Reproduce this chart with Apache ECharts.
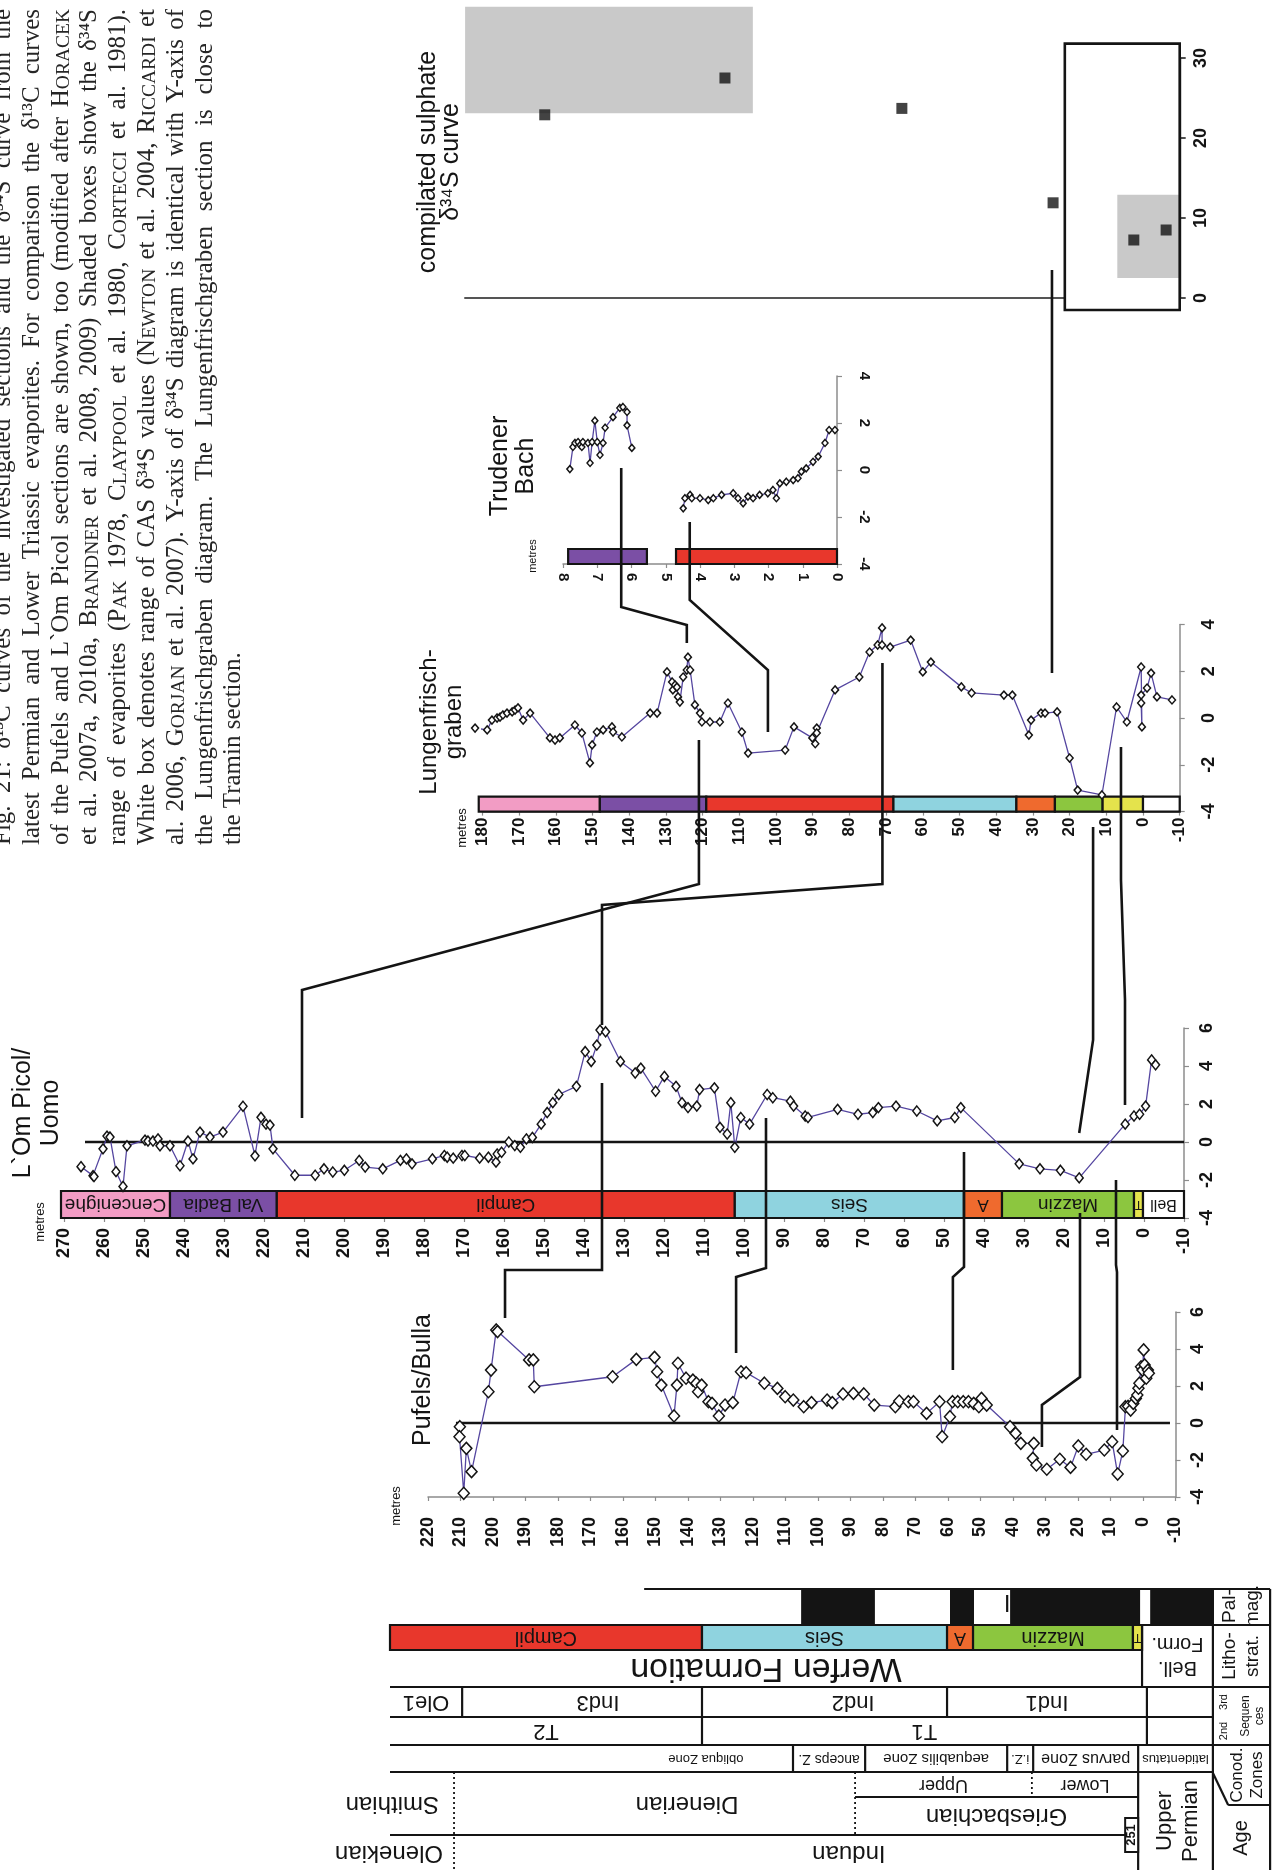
<!DOCTYPE html>
<html>
<head>
<meta charset="utf-8">
<title>δ13C and δ34S curves – Lower Triassic sections</title>
<script src="https://cdn.jsdelivr.net/npm/echarts@6.0.0/dist/echarts.min.js"></script>
<style>
  html, body { margin: 0; padding: 0; background: #ffffff; }
  #chart { width: 1277px; height: 1870px; }
</style>
</head>
<body>
<div id="chart"></div>
<script>
// ---------------------------------------------------------------------------
// Data: δ13C carbonate records, [height in metres, δ13C ‰]
// ---------------------------------------------------------------------------
const pufelsBulla = [
  [210.2,-0.2],[210.3,-0.74],[209.0,-3.8],[208.2,-1.37],[206.6,-2.63],[201.4,1.69],[200.6,2.86],[199.0,5.03],
  [198.6,4.94],[188.9,3.41],[187.6,3.41],[187.3,1.96],[163.2,2.5],[155.9,3.44],[150.3,3.55],[149.5,2.77],
  [148.2,2.05],[144.3,0.38],[143.4,2.05],[143.1,3.23],[140.6,2.42],[138.5,2.32],[137.4,2.15],[136.9,1.69],
  [135.8,2.05],[133.7,1.15],[132.6,1.06],[130.5,0.38],[128.6,0.97],[126.2,1.1],[123.7,2.77],[122.1,2.72],
  [116.5,2.15],[112.5,1.87],[110.1,1.42],[107.6,1.24],[104.4,0.88],[102.0,1.1],[97.2,1.24],[95.6,1.1],
  [92.3,1.57],[89.1,1.6],[85.9,1.57],[82.7,0.97],[76.2,0.88],[75.0,1.19],[72.2,1.15],[70.6,1.15],
  [66.6,0.52],[62.6,1.15],[61.8,-0.74],[59.4,0.34],[58.6,1.15],[57.0,1.15],[55.3,1.15],[53.7,1.15],
  [52.1,1.06],[50.5,0.88],[49.7,1.33],[48.1,0.97],[40.9,-0.2],[39.2,-0.56],[37.6,-1.1],[33.6,-1.1],
  [33.9,-1.91],[32.8,-2.27],[29.6,-2.5],[25.6,-1.96],[22.3,-2.4],[19.9,-1.24],[17.5,-1.69],[11.9,-1.46],
  [9.5,-1.01],[7.8,-2.76],[6.2,-1.51],[5.4,0.88],[4.6,0.9],[3.8,0.7],[3.0,1.06],[2.2,1.33],
  [1.75,1.51],[1.4,1.88],[1.1,2.15],[0.6,3.04],[0.15,2.86],[-0.2,3.95],[-0.5,3.14],[-1.0,2.42],
  [-1.5,2.86],[-1.8,2.69]
];

const omPicolUomo = [
  [265.75,-1.3],[262.75,-1.77],[262.5,-1.82],[260.25,-0.36],[259.25,0.31],[258.5,0.26],[257,-1.56],[255.25,-2.34],
  [254.25,-0.2],[249.75,0.1],[249,0.05],[247.75,0.05],[246.5,0.16],[246,-0.2],[243.5,-0.2],[241,-1.25],
  [239,0.05],[237.75,-0.89],[236,0.52],[233.5,0.26],[230.25,0.52],[225.25,1.88],[222.25,-0.73],[220.75,1.3],
  [219.5,0.94],[218.5,0.89],[217.75,-0.36],[212.3,-1.75],[207.2,-1.75],[205,-1.41],[202.8,-1.58],[199.9,-1.49],
  [196.2,-0.97],[194.7,-1.32],[190.3,-1.41],[185.9,-0.97],[184.4,-0.89],[183,-1.15],[177.9,-0.89],[174.9,-0.71],
  [174.2,-0.8],[172.7,-0.85],[170.5,-0.71],[169.8,-0.71],[166.1,-0.85],[163.9,-0.8],[162,-1.06],[161.7,-0.63],
  [160.6,-0.54],[158.8,0],[157.3,-0.19],[155.9,-0.28],[154.4,0.16],[152.9,0.24],[150.7,0.94],[149.2,1.55],
  [147.8,2.07],[146.3,2.5],[141.9,2.93],[139.7,4.76],[138.2,4.24],[136.8,5.1],[136,5.89],[134.6,5.8],
  [130.9,4.24],[127.2,3.63],[125.8,3.89],[122.1,2.67],[119.9,3.45],[117,2.93],[115.5,2.07],[114,1.81],
  [111.8,1.89],[111.1,2.76],[107.4,2.85],[106,0.77],[104.2,0.42],[103.3,2.07],[102.3,-0.28],[100.8,1.29],
  [98.6,0.94],[94.2,2.5],[92.8,2.33],[88.4,2.15],[87.6,1.89],[84.7,1.37],[84,1.29],[76.6,1.72],
  [71.5,1.46],[67.8,1.55],[66.4,1.81],[62,1.89],[56.8,1.63],[51.7,1.11],[47.3,1.29],[45.8,1.81],
  [31.2,-1.15],[26,-1.41],[20.9,-1.49],[16.2,-1.89],[4.7,0.94],[2.5,1.37],[1.1,1.46],[-0.4,1.89],
  [-1.9,4.32],[-2.9,4.06]
];

const lungenfrischgraben = [
  [182,-0.43],[178.7,-0.51],[177.4,-0.09],[176,0],[175.2,0.04],[174.4,0.13],[173.3,0.21],[171.9,0.26],
  [171.1,0.34],[170.3,0.43],[168.9,-0.09],[167,0.21],[161.6,-0.85],[160.2,-0.94],[158.9,-0.85],[154.8,-0.3],
  [152.9,-0.64],[150.7,-1.92],[150.1,-1.15],[148.8,-0.6],[147.1,-0.51],[144.7,-0.38],[144.4,-0.6],[142,-0.81],
  [134.3,0.21],[132.4,0.21],[129.7,1.97],[128.3,1.54],[128.1,1.2],[127.5,1.41],[127,1.32],[126.7,0.9],
  [126.2,0.68],[125.3,1.75],[124.3,2.05],[124,2.6],[123.4,2.05],[122.1,0.56],[120.7,0.21],[120.2,-0.17],
  [118,-0.17],[115.3,-0.17],[113.1,0.64],[109.3,-0.6],[107.6,-1.5],[97.5,-1.37],[95.1,-0.38],[90.1,-0.85],
  [89.3,-1.1],[88.9,-0.43],[88.9,-0.64],[83.9,1.2],[77.3,1.75],[74.5,2.82],[72.3,3.12],[71.1,3.85],
  [71.1,3.12],[68.9,3.03],[63.3,3.33],[60,1.97],[57.8,2.39],[49.5,1.33],[46.7,1.07],[37.9,0.98],
  [35.6,0.98],[31.1,-0.73],[30.5,-0.09],[27.8,0.21],[26.7,0.21],[23.4,0.26],[20,-1.71],[17.8,-3.08],
  [11.2,-3.29],[7.2,0.47],[4.4,-0.17],[0.5,2.18],[0.3,-0.38],[0.5,0.64],[0.5,0.98],[-1.1,1.28],
  [-2.2,1.92],[-3.8,0.9],[-7.9,0.77]
];

const trudenerBachLower = [
  [4.49,-1.63],[4.44,-1.2],[4.29,-1.06],[4.24,-1.2],[4.0,-1.2],[3.76,-1.28],[3.61,-1.2],[3.37,-1.06],
  [3.03,-0.99],[2.89,-1.2],[2.74,-1.42],[2.6,-1.13],[2.45,-1.2],[2.26,-1.06],[2.02,-0.99],[1.87,-0.85],
  [1.77,-1.2],[1.67,-0.57],[1.48,-0.5],[1.28,-0.43],[1.14,-0.35],[1.04,-0.07],[0.9,0.07],[0.7,0.35],
  [0.55,0.57],[0.35,1.15],[0.23,1.7],[0.06,1.7]
];
const trudenerBachUpper = [
  [7.8,0.04],[7.71,0.98],[7.65,1.15],[7.56,1.19],[7.5,1.06],[7.45,0.98],[7.42,1.19],[7.27,1.15],
  [7.21,0.3],[7.15,1.19],[7.07,2.1],[7.0,1.19],[6.92,0.64],[6.83,1.15],[6.77,1.8],[6.54,2.25],
  [6.34,2.64],[6.25,2.68],[6.13,2.47],[6.13,1.9],[5.99,0.94]
];

// compiled sulphate δ34S on the Lungenfrischgraben height scale, [metres, δ34S ‰]
const sulphateD34S = [[163,22.9],[113.9,27.5],[65.7,23.7],[24.5,11.9],[2.5,7.25],[-6.3,8.5]];
// evaporite δ34S ranges, [from m, to m, min δ34S, max δ34S]
const evaporiteRanges = [[184.7,106.3,23.1,36.4],[7,-10,2.5,12.9]];
// range of CAS δ34S values
const casRange = [21.3,-10,-1.5,31.8];

// formations per section, [name, base-side height, top-side height]
const omPicolFormations = [['Cencenighe',270.75,243.5],['Val Badia',243.5,216.8],['Campil',216.8,102.3],
  ['Seis',102.3,45],['A',45,35.5],['Mazzin',35.5,2.5],['T',2.5,0.25],['Bell',0.25,-10]];
const lungenFormations = [['Cencenighe',181,148],['Val Badia',148,119],['Campil',119,68],['Seis',68,34.5],
  ['A',34.5,24],['Mazzin',24,11],['T',11,0],['Bell',0,-10]];
const trudenerFormations = [['Val Badia',7.85,5.55],['Campil',4.7,0]];

// stratigraphic column (heights on the Pufels/Bulla scale)
const palmagNormal = [[105.2,82.5],[59.4,52],[40.9,0.9],[-2.2,-21.5]];
const lithoFormations = [['Campil',231.7,135.7],['Seis',135.7,60.3],['A',60.3,52.3],['Mazzin',52.3,3.1],['T',3.1,0.3]];
const lithoGroup = [['Werfen Formation',231.7,0.3]];
const thirdOrderSequences = [['Ole1',231.7,209.5],['Ind3',209.5,135.7],['Ind2',135.7,60.3],['Ind1',60.3,-1.2]];
const secondOrderSequences = [['T2',231.7,135.7],['T1',135.7,-1.2]];
const conodontZones = [['obliqua Zone',161.3,107.7],['anceps Z.',107.7,85.5],['aequabilis Zone',85.5,41.8],
  ['i.Z.',41.8,33.8],['parvus Zone',33.8,1.5],['latidentatus',1.5,-21.5]];
const substages = [['Upper',88.6,34.2],['Lower',34.2,1.5]];
const stagesUpper = [['Smithian',250,212],['Dienerian',212,88.6]];
const stagesLower = [['Griesbachian',88.6,1.5]];
const ages = [['Olenekian',250,212],['Induan',212,1.5]];

// correlated horizons between sections: [section, height in metres] pairs
const tieHorizons = [
  [['om',210.5],['lu',121]],
  [['pu',196.3],['om',135.5]],
  [['om',135.5],['lu',71]],
  [['pu',125.2],['om',94.5]],
  [['pu',58.5],['om',45]],
  [['pu',31.1],['om',16]],
  [['om',16.2],['lu',13.6]],
  [['pu',8],['om',7]],
  [['om',4.75],['lu',6]],
  [['tr',6.3],['lu',124.3]],
  [['tr',4.3],['lu',102.2]],
  [['su',24.8],['lu',24.8]]
];

const captionLines = [
  'Fig. 21: δ¹³C curves of the investigated sections and the δ³⁴S curve from the',
  'latest Permian and Lower Triassic evaporites. For comparison the δ¹³C curves',
  'of the Pufels and L`Om Picol sections are shown, too (modified after H{ORACEK}',
  'et al. 2007a, 2010a, B{RANDNER} et al. 2008, 2009) Shaded boxes show the δ³⁴S',
  'range of evaporites (P{AK} 1978, C{LAYPOOL} et al. 1980, C{ORTECCI} et al. 1981).',
  'White box denotes range of CAS δ³⁴S values (N{EWTON} et al. 2004, R{ICCARDI} et',
  'al. 2006, G{ORJAN} et al. 2007). Y-axis of δ³⁴S diagram is identical with Y-axis of',
  'the Lungenfrischgraben diagram. The Lungenfrischgraben section is close to',
  'the Tramin section.'
];

// ---------------------------------------------------------------------------
// Styling
// ---------------------------------------------------------------------------
const SANS = '"Liberation Sans", Arial, Helvetica, sans-serif';
const SERIF = '"Liberation Serif", "Times New Roman", serif';
const INK = '#141414';
const AXIS_GREY = '#8c8c8c';
const CURVE = '#5546a0';
const formationColor = {
  'Cencenighe':'#f29cc4','Val Badia':'#7b4fa5','Campil':'#e8372c','Seis':'#8fd3df',
  'A':'#ef6a2e','Mazzin':'#8cc63f','T':'#e4e34c','Bell':'#ffffff'
};

// grids: Pufels, L`Om Picol, Lungenfrischgraben, Trudener Bach, sulphate, strat. column
const grids = [
  {left:428,   right:101.5, top:1312,  height:185},
  {left:64,    right:93,    top:1028,  height:190},
  {left:482.4, right:97.3,  top:624.4, height:187.2},
  {left:563,   right:440,   top:376,   height:188},
  {left:465.1, right:97.3,  top:58,    height:240},
  {left:390,   right:5.6,   top:1589,  height:281}
];
const gridOf = {pu:0, om:1, lu:2, tr:3, su:4};

function tickLabel(size, rot, margin) {
  return {show:true, rotate:rot, margin:margin, fontFamily:SANS, fontWeight:'bold', fontSize:size, color:INK};
}
function metreAxis(gi, min, max, interval, label) {
  return {gridIndex:gi, type:'value', inverse:true, min:min, max:max, interval:interval,
    axisLine:{show:true, onZero:false, lineStyle:{color:AXIS_GREY, width:1.5}},
    axisTick:{show:true, length:4, lineStyle:{color:AXIS_GREY, width:1.2}},
    axisLabel:label, splitLine:{show:false}};
}
function deltaAxis(gi, min, max, interval, label) {
  return {gridIndex:gi, type:'value', position:'right', min:min, max:max, interval:interval,
    axisLine:{show:true, onZero:false, lineStyle:{color:AXIS_GREY, width:1.5}},
    axisTick:{show:true, length:5, lineStyle:{color:AXIS_GREY, width:1.2}},
    axisLabel:label, splitLine:{show:false}};
}

function curve(gi, data, size) {
  return {type:'line', xAxisIndex:gi, yAxisIndex:gi, data:data, clip:false, z:5, silent:true,
    symbol:'diamond', symbolSize:size, showAllSymbol:true,
    lineStyle:{color:CURVE, width:1.3},
    itemStyle:{color:'#ffffff', borderColor:INK, borderWidth:1.5},
    emphasis:{disabled:true}};
}
function zeroLine(gi, data) {
  return {type:'line', xAxisIndex:gi, yAxisIndex:gi, data:data, clip:false, z:2, silent:true,
    symbol:'none', lineStyle:{color:INK, width:2.6}, emphasis:{disabled:true}};
}

// formation bar lying on the base of a section's plot
function formationBar(gi, list, base, thick, fonts) {
  return {type:'custom', xAxisIndex:gi, yAxisIndex:gi, clip:false, silent:true, z:3,
    data:list.map(function (f, i) { return [f[1], f[2], i]; }),
    renderItem:function (params, api) {
      const f = list[api.value(2)];
      const a = api.coord([f[1], base]), b = api.coord([f[2], base]);
      const x = Math.min(a[0], b[0]), w = Math.abs(b[0] - a[0]), yb = a[1];
      const kids = [{type:'rect', shape:{x:x, y:yb - thick, width:w, height:thick},
        style:{fill:formationColor[f[0]], stroke:INK, lineWidth:2.2}}];
      if (fonts) {
        kids.push({type:'text', x:x + w / 2, y:yb - thick / 2, rotation:Math.PI,
          style:{text:f[0], align:'center', verticalAlign:'middle', fontFamily:SANS,
            fontSize:fonts[f[0]] || 18, fill:INK}});
      }
      return {type:'group', children:kids};
    }};
}

// --- stratigraphic column (grid 5; y units are offsets below the column top) ---
const ROW = {palmag:[0,36], form:[36,61], werfen:[61,98], seq3:[98,128], seq2:[128,156],
  conod:[156,183], sub:[183,208], stageUp:[183,246], stageLow:[208,246], age:[246,281]};
const labelAt = {'Ind3':167.7, 'Ind2':89.2, 'Dienerian':140.3, 'Induan':90.5, 'Smithian':231, 'Olenekian':232};

function stratCells(list, row, opt) {
  const y0 = row[0], y1 = row[1];
  return {type:'custom', xAxisIndex:5, yAxisIndex:5, clip:false, silent:true, z:3,
    data:list.map(function (c, i) { return [c[1], c[2], i]; }),
    renderItem:function (params, api) {
      const c = list[api.value(2)];
      const a = api.coord([c[1], y0]), b = api.coord([c[2], y1]);
      const x = Math.min(a[0], b[0]), w = Math.abs(b[0] - a[0]);
      const kids = [];
      if (opt.fill) {
        kids.push({type:'rect', shape:{x:x, y:a[1], width:w, height:b[1] - a[1]},
          style:{fill:opt.fill(c), stroke:opt.stroke || null, lineWidth:opt.stroke ? 2.2 : 0}});
      }
      if (opt.size) {
        const at = labelAt[c[0]];
        const cx = at !== undefined ? api.coord([at, y0])[0] : x + w / 2;
        kids.push({type:'text', x:cx, y:(a[1] + b[1]) / 2, rotation:Math.PI,
          style:{text:c[0], align:'center', verticalAlign:'middle', fontFamily:SANS,
            fontSize:opt.size(c), fill:INK}});
      }
      return {type:'group', children:kids};
    }};
}

// ruling of the column: [m1, m2, y1, y2, dotted]
const stratRules = [
  [153.5,-39.1,0,0],[231.7,-39.1,36,36],[231.7,0.3,61,61],[231.7,-39.1,98,98],[231.7,-21.5,128,128],
  [231.7,-39.1,156,156],[231.7,-21.5,183,183],[88.6,1.5,208,208],[231.7,1.5,246,246],
  [0.3,0.3,36,98],[209.5,209.5,98,128],[135.7,135.7,98,156],[60.3,60.3,98,128],[-1.2,-1.2,98,156],
  [107.7,107.7,156,183],[85.5,85.5,156,183],[41.8,41.8,156,183],[33.8,33.8,156,183],[1.5,1.5,156,281],
  [-21.5,-21.5,0,281],[-39.1,-39.1,0,281],[-21.5,-26.2,184,216],[-26.2,-39.1,216,216],
  [41.8,41.8,6,23],
  [88.6,88.6,183,246,1],[34.2,34.2,183,208,1],[212,212,183,281,1]
];
const stratRuleSeries = {type:'custom', xAxisIndex:5, yAxisIndex:5, clip:false, silent:true, z:4,
  data:stratRules.map(function (r, i) { return [r[0], r[1], i]; }),
  renderItem:function (params, api) {
    const r = stratRules[api.value(2)];
    const a = api.coord([r[0], r[2]]), b = api.coord([r[1], r[3]]);
    return {type:'line', shape:{x1:a[0], y1:a[1], x2:b[0], y2:b[1]},
      style:{stroke:INK, lineWidth:r[4] ? 1.8 : 2.2, lineDash:r[4] ? [2, 3] : null}};
  }};

// header and free labels of the column: [text, m, y, rotation°, size, weight]
const stratTexts = [
  ['Pal-\nmag.', -30.3, 17, 90, 19],
  ['Litho-\nstrat.', -30.3, 67, 90, 19],
  ['3rd', -24.8, 113, 90, 11],
  ['2nd', -24.8, 142, 90, 11],
  ['Sequen\nces', -33.6, 127, 90, 12],
  ['Conod.\nZones', -32, 186, 90, 17],
  ['Age', -30.3, 249, 90, 20],
  ['Upper\nPermian', -10.8, 232, 90, 22],
  ['Bell.\nForm.', -10.6, 67, 180, 20],
  ['251', 3.5, 246, 90, 13, 'bold']
];
const stratTextSeries = {type:'custom', xAxisIndex:5, yAxisIndex:5, clip:false, silent:true, z:5,
  data:stratTexts.map(function (t, i) { return [t[1], t[2], i]; }),
  renderItem:function (params, api) {
    const t = stratTexts[api.value(2)];
    const p = api.coord([t[1], t[2]]);
    const kids = [];
    if (t[0] === '251') {
      const a = api.coord([5.5, 229]), b = api.coord([1.5, 263]);
      kids.push({type:'rect', shape:{x:a[0], y:a[1], width:b[0] - a[0], height:b[1] - a[1]},
        style:{fill:'#ffffff', stroke:INK, lineWidth:2}});
    }
    kids.push({type:'text', x:p[0], y:p[1], rotation:t[3] * Math.PI / 180,
      style:{text:t[0], align:'center', verticalAlign:'middle', fontFamily:SANS, fontSize:t[4],
        lineHeight:Math.round(t[4] * 1.2), fontWeight:t[5] || 'normal', fill:INK}});
    return {type:'group', children:kids};
  }};

// sulphate panel boxes
const sulphateBoxes = {type:'custom', xAxisIndex:4, yAxisIndex:4, clip:false, silent:true, z:2,
  data:[[casRange[0], casRange[1], 0]].concat(evaporiteRanges.map(function (r, i) { return [r[0], r[1], i + 1]; }))
    .concat([[casRange[0], casRange[1], 99]]),
  renderItem:function (params, api) {
    const k = api.value(2);
    const r = (k === 0 || k === 99) ? casRange : evaporiteRanges[k - 1];
    const a = api.coord([r[0], r[3]]), b = api.coord([r[1], r[2]]);
    const shape = {x:a[0], y:a[1], width:b[0] - a[0], height:b[1] - a[1]};
    if (k === 0) return {type:'rect', shape:shape, style:{fill:'#ffffff'}};
    if (k === 99) return {type:'rect', shape:shape, style:{fill:null, stroke:INK, lineWidth:2.6}};
    return {type:'rect', shape:shape, style:{fill:'#c9c9c9'}};
  }};

const option = {
  animation:false,
  backgroundColor:'#ffffff',
  grid:grids.map(function (g) {
    return {left:g.left, right:g.right, top:g.top, height:g.height, containLabel:false,
      outerBoundsMode:'none', show:false};
  }),
  xAxis:[
    metreAxis(0, -10, 220, 10, tickLabel(18, 90, 20)),
    metreAxis(1, -10, 270, 10, tickLabel(18, 90, 10)),
    metreAxis(2, -10, 180, 10, tickLabel(17, 90, 6)),
    metreAxis(3, 0, 8, 1, tickLabel(15, -90, 9)),
    {gridIndex:4, type:'value', inverse:true, min:-10, max:184.7,
      axisLine:{show:true, onZero:true, lineStyle:{color:'#555555', width:2.2}},
      axisTick:{show:false}, axisLabel:{show:false}, splitLine:{show:false}},
    {gridIndex:5, type:'value', inverse:true, min:-39.5, max:231.7, show:false,
      axisLine:{show:false}, axisTick:{show:false}, axisLabel:{show:false}, splitLine:{show:false}}
  ],
  yAxis:[
    deltaAxis(0, -4, 6, 2, tickLabel(18, 90, 14)),
    deltaAxis(1, -4, 6, 2, tickLabel(18, 90, 14)),
    deltaAxis(2, -4, 4, 2, tickLabel(18, 90, 20)),
    deltaAxis(3, -4, 4, 2, tickLabel(15, -90, 20)),
    {gridIndex:4, type:'value', position:'right', min:0, max:30, interval:10,
      axisLine:{show:true, onZero:false, lineStyle:{color:INK, width:2.4}},
      axisTick:{show:true, length:6, lineStyle:{color:INK, width:1.5}},
      axisLabel:tickLabel(18, 90, 12), splitLine:{show:false}},
    {gridIndex:5, type:'value', inverse:true, min:0, max:281, show:false,
      axisLine:{show:false}, axisTick:{show:false}, axisLabel:{show:false}, splitLine:{show:false}}
  ],
  series:[
    zeroLine(0, [[211.4,0],[-8.3,0]]),
    curve(0, pufelsBulla, [11,12]),
    zeroLine(1, [[264.75,0],[-10,0]]),
    formationBar(1, omPicolFormations, -4, 27,
      {'Cencenighe':19,'Val Badia':19,'Campil':19,'Seis':19,'A':17,'Mazzin':19,'T':12,'Bell':16}),
    curve(1, omPicolUomo, [8,10]),
    formationBar(2, lungenFormations, -4, 15, null),
    curve(2, lungenfrischgraben, [7,8]),
    formationBar(3, trudenerFormations, -4, 15, null),
    curve(3, trudenerBachLower, [6,7]),
    curve(3, trudenerBachUpper, [6,7]),
    sulphateBoxes,
    {type:'scatter', xAxisIndex:4, yAxisIndex:4, data:sulphateD34S, clip:false, silent:true, z:6,
      symbol:'rect', symbolSize:11, itemStyle:{color:INK}},
    stratCells(palmagNormal.map(function (p) { return ['', p[0], p[1]]; }), ROW.palmag,
      {fill:function () { return INK; }}),
    stratCells(lithoFormations, ROW.form, {fill:function (c) { return formationColor[c[0]]; }, stroke:INK,
      size:function (c) { return c[0] === 'T' ? 12 : (c[0] === 'A' ? 18 : 20); }}),
    stratCells(lithoGroup, ROW.werfen, {size:function () { return 34; }}),
    stratCells(thirdOrderSequences, ROW.seq3, {size:function () { return 22; }}),
    stratCells(secondOrderSequences, ROW.seq2, {size:function () { return 22; }}),
    stratCells(conodontZones, ROW.conod, {size:function (c) {
      return {'obliqua Zone':13,'anceps Z.':14,'aequabilis Zone':15,'i.Z.':13,'parvus Zone':16,'latidentatus':13}[c[0]]; }}),
    stratCells(substages, ROW.sub, {size:function () { return 18; }}),
    stratCells(stagesUpper, ROW.stageUp, {size:function () { return 24; }}),
    stratCells(stagesLower, ROW.stageLow, {size:function () { return 24; }}),
    stratCells(ages, ROW.age, {size:function () { return 24; }}),
    stratRuleSeries,
    stratTextSeries
  ]
};

const chart = echarts.init(document.getElementById('chart'), null, {renderer:'canvas', width:1277, height:1870});
chart.setOption(option);

// ---------------------------------------------------------------------------
// Overlay: tie lines, section titles and the caption
// ---------------------------------------------------------------------------
function xOf(sec, m) { return chart.convertToPixel({gridIndex:gridOf[sec]}, [m, 0])[0]; }

// routing of each tie line: [start vertical from, start vertical to, end vertical from, end vertical to]
const tieRoutes = [
  [1118, 990, 884, 740],
  [1318, 1270, 1270, 1083],
  [1025, 905, 884, 663],
  [1353, 1277, 1268, 1118],
  [1370, 1277, 1267, 1152],
  [1447, 1405, 1377, 1213],
  [1133, 1133, 1040, 827],
  [1430, 1272, 1265, 1180],
  [1105, 1000, 880, 747],
  [468, 607, 625, 643],
  [522, 600, 670, 732],
  [270, 270, 673, 673]
];

const elements = [];
tieHorizons.forEach(function (t, i) {
  const r = tieRoutes[i];
  const xa = xOf(t[0][0], t[0][1]), xb = xOf(t[1][0], t[1][1]);
  elements.push({type:'polyline', silent:true, z:4,
    shape:{points:[[xa, r[0]], [xa, r[1]], [xb, r[2]], [xb, r[3]]]},
    style:{stroke:INK, lineWidth:2.6, fill:null, lineJoin:'miter'}});
});

function rotatedText(text, x, y, size, lineHeight, extra) {
  const st = {text:text, align:'center', verticalAlign:'middle', fontFamily:SANS, fontSize:size,
    lineHeight:lineHeight || Math.round(size * 1.15), fill:INK};
  if (extra) Object.keys(extra).forEach(function (k) { st[k] = extra[k]; });
  return {type:'text', x:x, y:y, rotation:Math.PI / 2, silent:true, z:6, style:st};
}
elements.push(rotatedText('Pufels/Bulla', 423, 1380, 25));
elements.push(rotatedText('L`Om Picol/\nUomo', 37, 1113, 25, 28));
elements.push(rotatedText('Lungenfrisch-\ngraben', 442, 722, 24, 25));
elements.push(rotatedText('Trudener\nBach', 513, 466, 25, 26));
elements.push(rotatedText('compilated sulphate\nδ³⁴S curve', 440, 162, 25, 23));
elements.push(rotatedText('metres', 396, 1506, 13));
elements.push(rotatedText('metres', 40, 1222, 13));
elements.push(rotatedText('metres', 462, 828, 13));
elements.push(rotatedText('metres', 533, 556, 11));

// justified caption set along the left margin, reading upwards
const measureCtx = document.createElement('canvas').getContext('2d');
function textWidth(t, size) { measureCtx.font = size + 'px ' + SERIF; return measureCtx.measureText(t).width; }
(function () {
  const BIG = 25, SMALL = 19.5, yStart = 845, yEnd = 9;
  captionLines.forEach(function (line, i) {
    const anchorX = 6 + 28.8 * i + 10;
    const tokens = line.split(' ').map(function (tok) {
      return tok.split(/(\{[^}]*\})/).filter(Boolean).map(function (p) {
        return p.charAt(0) === '{' ? {t:p.slice(1, -1), s:SMALL} : {t:p, s:BIG};
      });
    });
    const widths = tokens.map(function (segs) {
      return segs.reduce(function (a, g) { return a + textWidth(g.t, g.s); }, 0);
    });
    const total = widths.reduce(function (a, b) { return a + b; }, 0);
    const isLast = i === captionLines.length - 1;
    const gap = isLast ? textWidth(' ', BIG) : Math.max(3, (yStart - yEnd - total) / (tokens.length - 1));
    let y = yStart;
    tokens.forEach(function (segs) {
      segs.forEach(function (g) {
        elements.push({type:'text', x:anchorX, y:y, rotation:Math.PI / 2, silent:true, z:1,
          style:{text:g.t, fontSize:g.s, fontFamily:SERIF, fill:'#262626', align:'left', verticalAlign:'bottom'}});
        y -= textWidth(g.t, g.s);
      });
      y -= gap;
    });
  });
})();

chart.setOption({graphic:{elements:elements}});
</script>
</body>
</html>
